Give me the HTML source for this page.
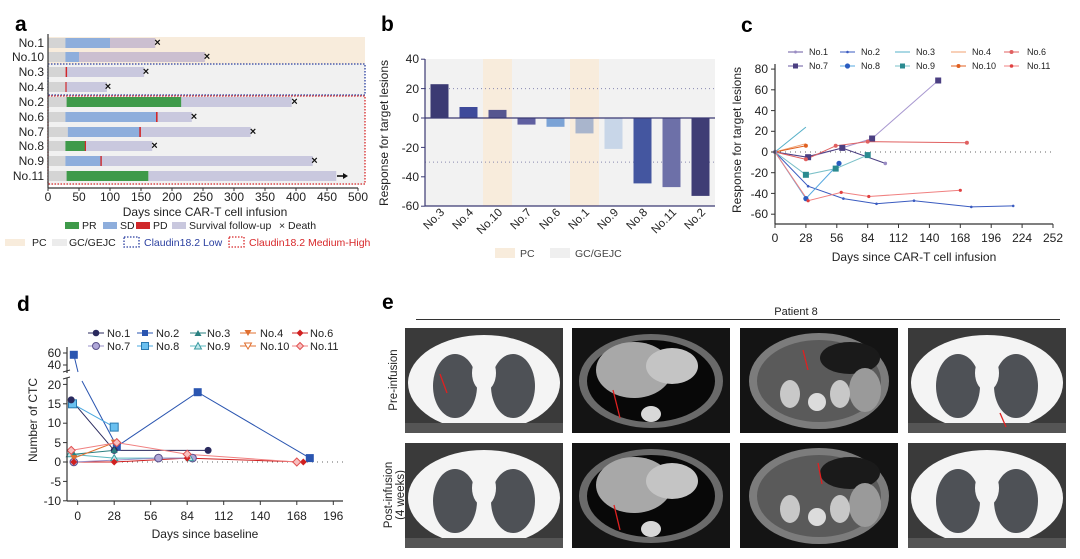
<!DOCTYPE html>
<html><head><meta charset="utf-8"><style>
html,body{margin:0;padding:0;background:#fff;width:1080px;height:559px;overflow:hidden}
svg{display:block;font-family:"Liberation Sans",sans-serif}
</style></head><body>
<svg width="1080" height="559" viewBox="0 0 1080 559" xmlns="http://www.w3.org/2000/svg">
<!-- ========== Panel a ========== -->
<text x="15" y="31" font-size="21" font-weight="bold">a</text>
<rect x="48" y="37" width="317" height="148" fill="#f1f1f1"/>
<rect x="48" y="37" width="317" height="27" fill="#f8ecdc"/>
<rect x="48" y="64" width="317" height="31" fill="none" stroke="#2a3fa0" stroke-width="1.3" stroke-dasharray="1.5 1.5"/>
<rect x="48" y="96" width="317" height="88" fill="none" stroke="#d8282a" stroke-width="1.3" stroke-dasharray="1.5 1.5"/>
<g font-size="12" text-anchor="end" fill="#222">
<text x="44" y="47">No.1</text><text x="44" y="61">No.10</text><text x="44" y="76">No.3</text><text x="44" y="91">No.4</text>
<text x="44" y="106">No.2</text><text x="44" y="121">No.6</text><text x="44" y="136">No.7</text><text x="44" y="150">No.8</text>
<text x="44" y="165">No.9</text><text x="44" y="180">No.11</text>
</g>
<g>
<!-- No.1 -->
<rect x="48" y="38" width="17.4" height="10" fill="#d4d4d4"/><rect x="65.4" y="38" width="44.6" height="10" fill="#8eaedc"/><rect x="110" y="38" width="45.3" height="10" fill="#cbbfd0"/>
<!-- No.10 -->
<rect x="48" y="52" width="17.4" height="10" fill="#d4d4d4"/><rect x="65.4" y="52" width="13.6" height="10" fill="#8eaedc"/><rect x="79" y="52" width="125.9" height="10" fill="#cbbfd0"/>
<!-- No.3 -->
<rect x="48" y="67" width="17.4" height="10" fill="#d4d4d4"/><rect x="65.4" y="67" width="78.7" height="10" fill="#c9c8de"/><rect x="65.6" y="67" width="1.5" height="10" fill="#d0282a"/>
<!-- No.4 -->
<rect x="48" y="82" width="17.4" height="10" fill="#d4d4d4"/><rect x="65.4" y="82" width="41.5" height="10" fill="#c9c8de"/><rect x="65.4" y="82" width="1.2" height="10" fill="#d0282a"/>
<!-- No.2 -->
<rect x="48" y="97" width="18.6" height="10" fill="#d4d4d4"/><rect x="66.6" y="97" width="114.7" height="10" fill="#3f9a4a"/><rect x="181.3" y="97" width="110.4" height="10" fill="#c9c8de"/>
<!-- No.6 -->
<rect x="48" y="112" width="17.4" height="10" fill="#d4d4d4"/><rect x="65.4" y="112" width="91.1" height="10" fill="#8eaedc"/><rect x="156.5" y="112" width="35.3" height="10" fill="#c9c8de"/><rect x="156" y="112" width="1.6" height="10" fill="#d0282a"/>
<!-- No.7 -->
<rect x="48" y="127" width="19.8" height="10" fill="#d4d4d4"/><rect x="67.8" y="127" width="72" height="10" fill="#8eaedc"/><rect x="139.8" y="127" width="110.9" height="10" fill="#c9c8de"/><rect x="139.3" y="127" width="1.6" height="10" fill="#d0282a"/>
<!-- No.8 -->
<rect x="48" y="141" width="17.4" height="10" fill="#d4d4d4"/><rect x="65.4" y="141" width="19.8" height="10" fill="#3f9a4a"/><rect x="85.2" y="141" width="67" height="10" fill="#c9c8de"/><rect x="84.8" y="141" width="1.2" height="10" fill="#d0282a"/>
<!-- No.9 -->
<rect x="48" y="156" width="17.4" height="10" fill="#d4d4d4"/><rect x="65.4" y="156" width="35.3" height="10" fill="#8eaedc"/><rect x="100.7" y="156" width="212" height="10" fill="#c9c8de"/><rect x="100.4" y="156" width="1.4" height="10" fill="#d0282a"/>
<!-- No.11 -->
<rect x="48" y="171" width="18.6" height="10" fill="#d4d4d4"/><rect x="66.6" y="171" width="81.8" height="10" fill="#3f9a4a"/><rect x="148.4" y="171" width="187.9" height="10" fill="#c9c8de"/>
</g>
<g font-size="11" font-weight="bold" text-anchor="middle" fill="#111">
<text x="157.5" y="46">×</text><text x="207" y="60">×</text><text x="146" y="75">×</text><text x="108" y="90">×</text>
<text x="294.5" y="105">×</text><text x="194" y="120">×</text><text x="253" y="135">×</text><text x="154.5" y="149">×</text><text x="314.5" y="164">×</text>
</g>
<line x1="337" y1="176" x2="344" y2="176" stroke="#111" stroke-width="1.6"/><path d="M343,173 L348,176 L343,179Z" fill="#111"/>
<line x1="48" y1="34" x2="48" y2="188" stroke="#333" stroke-width="1.2"/>
<line x1="48" y1="188" x2="358" y2="188" stroke="#333" stroke-width="1.2"/>
<g stroke="#333" stroke-width="1"><line x1="48" y1="188" x2="48" y2="191"/><line x1="79" y1="188" x2="79" y2="191"/><line x1="110" y1="188" x2="110" y2="191"/><line x1="141" y1="188" x2="141" y2="191"/><line x1="172" y1="188" x2="172" y2="191"/><line x1="203" y1="188" x2="203" y2="191"/><line x1="234" y1="188" x2="234" y2="191"/><line x1="265" y1="188" x2="265" y2="191"/><line x1="296" y1="188" x2="296" y2="191"/><line x1="327" y1="188" x2="327" y2="191"/><line x1="358" y1="188" x2="358" y2="191"/></g>
<g font-size="12" text-anchor="middle" fill="#222">
<text x="48" y="201">0</text><text x="79" y="201">50</text><text x="110" y="201">100</text><text x="141" y="201">150</text><text x="172" y="201">200</text><text x="203" y="201">250</text><text x="234" y="201">300</text><text x="265" y="201">350</text><text x="296" y="201">400</text><text x="327" y="201">450</text><text x="358" y="201">500</text>
<text x="205" y="216">Days since CAR-T cell infusion</text>
</g>
<g font-size="10.5" fill="#222">
<rect x="65" y="222" width="14" height="7" fill="#3f9a4a"/><text x="82" y="229">PR</text>
<rect x="103" y="222" width="14" height="7" fill="#8eaedc"/><text x="120" y="229">SD</text>
<rect x="136" y="222" width="14" height="7" fill="#d0282a"/><text x="153" y="229">PD</text>
<rect x="172" y="222" width="14" height="7" fill="#c9c8de"/><text x="189" y="229">Survival follow-up</text>
<text x="279" y="229">× Death</text>
<rect x="5" y="239" width="20" height="7" fill="#f8ecdc"/><text x="32" y="246">PC</text>
<rect x="52" y="239" width="15" height="7" fill="#ececec"/><text x="69" y="246">GC/GEJC</text>
<rect x="124" y="237" width="15" height="10" fill="none" stroke="#2a3fa0" stroke-width="1.3" stroke-dasharray="1.5 1.5"/><text x="144" y="246" fill="#2a3fa0">Claudin18.2 Low</text>
<rect x="229" y="237" width="15" height="10" fill="none" stroke="#d8282a" stroke-width="1.3" stroke-dasharray="1.5 1.5"/><text x="249" y="246" fill="#d8282a">Claudin18.2 Medium-High</text>
</g>

<!-- ========== Panel b ========== -->
<text x="381" y="31" font-size="21" font-weight="bold">b</text>
<rect x="425" y="59" width="290" height="147" fill="#f2f2f2"/>
<rect x="483" y="59" width="29" height="147" fill="#f8ecdc"/>
<rect x="570" y="59" width="29" height="147" fill="#f8ecdc"/>
<line x1="425" y1="88.6" x2="715" y2="88.6" stroke="#8888b0" stroke-dasharray="1 3"/>
<line x1="425" y1="162.1" x2="715" y2="162.1" stroke="#8888b0" stroke-dasharray="1 3"/>
<rect x="430.5" y="84.2" width="18" height="33.8" fill="#3b3a73"/>
<rect x="459.5" y="107" width="18" height="11" fill="#3e4a9a"/>
<rect x="488.5" y="109.9" width="18" height="8.1" fill="#56568f"/>
<rect x="517.5" y="118" width="18" height="6.6" fill="#5f5fa0"/>
<rect x="546.5" y="118" width="18" height="8.8" fill="#7ba3d6"/>
<rect x="575.5" y="118" width="18" height="15.4" fill="#a9b5cc"/>
<rect x="604.5" y="118" width="18" height="30.9" fill="#c8d6e8"/>
<rect x="633.5" y="118" width="18" height="65.4" fill="#4456a0"/>
<rect x="662.5" y="118" width="18" height="69.1" fill="#6d70a8"/>
<rect x="691.5" y="118" width="18" height="77.9" fill="#3f3d75"/>
<line x1="425" y1="118" x2="715" y2="118" stroke="#3b3a73" stroke-width="1.2"/>
<line x1="425" y1="59" x2="425" y2="206" stroke="#3b3a73" stroke-width="1.2"/>
<line x1="425" y1="206" x2="715" y2="206" stroke="#3b3a73" stroke-width="1.2"/>
<g stroke="#3b3a73"><line x1="421" y1="59.2" x2="425" y2="59.2"/><line x1="421" y1="88.6" x2="425" y2="88.6"/><line x1="421" y1="118" x2="425" y2="118"/><line x1="421" y1="147.4" x2="425" y2="147.4"/><line x1="421" y1="176.8" x2="425" y2="176.8"/><line x1="421" y1="206.2" x2="425" y2="206.2"/></g>
<g font-size="12" text-anchor="end" fill="#222">
<text x="419" y="63">40</text><text x="419" y="93">20</text><text x="419" y="122">0</text><text x="419" y="152">-20</text><text x="419" y="181">-40</text><text x="419" y="210">-60</text>
</g>
<text transform="translate(388,133) rotate(-90)" font-size="12" text-anchor="middle" fill="#222">Response for target lesions</text>
<g font-size="11.5" text-anchor="end" fill="#222">
<text transform="translate(445,213) rotate(-45)">No.3</text>
<text transform="translate(474,213) rotate(-45)">No.4</text>
<text transform="translate(503,213) rotate(-45)">No.10</text>
<text transform="translate(532,213) rotate(-45)">No.7</text>
<text transform="translate(561,213) rotate(-45)">No.6</text>
<text transform="translate(590,213) rotate(-45)">No.1</text>
<text transform="translate(619,213) rotate(-45)">No.9</text>
<text transform="translate(648,213) rotate(-45)">No.8</text>
<text transform="translate(677,213) rotate(-45)">No.11</text>
<text transform="translate(706,213) rotate(-45)">No.2</text>
</g>
<rect x="495" y="248" width="20" height="10" fill="#f8ecdc"/><text x="520" y="257" font-size="10.5" fill="#444">PC</text>
<rect x="550" y="248" width="20" height="10" fill="#efefef"/><text x="575" y="257" font-size="10.5" fill="#444">GC/GEJC</text>

<!-- ========== Panel c ========== -->
<text x="741" y="32" font-size="21" font-weight="bold">c</text>
<g font-size="9" fill="#222">
<line x1="788" y1="52" x2="803" y2="52" stroke="#6a5aa0"/><circle cx="795.5" cy="52" r="1.5" fill="#9a8cc4"/><text x="809" y="55">No.1</text>
<line x1="840" y1="52" x2="855" y2="52" stroke="#3a5bc0"/><circle cx="847.5" cy="52" r="1.3" fill="#3a5bc0"/><text x="861" y="55">No.2</text>
<line x1="895" y1="52" x2="910" y2="52" stroke="#56b0c8"/><text x="916" y="55">No.3</text>
<line x1="951" y1="52" x2="966" y2="52" stroke="#f0a070"/><text x="972" y="55">No.4</text>
<line x1="1004" y1="52" x2="1019" y2="52" stroke="#e06060"/><circle cx="1011.5" cy="52" r="2" fill="#e06060"/><text x="1027" y="55">No.6</text>
<line x1="788" y1="66" x2="803" y2="66" stroke="#6a5aa0"/><rect x="793" y="63.5" width="5" height="5" fill="#4b3f82"/><text x="809" y="69">No.7</text>
<line x1="840" y1="66" x2="855" y2="66" stroke="#56a8e0"/><circle cx="847.5" cy="66" r="2.6" fill="#2a5cc0"/><text x="861" y="69">No.8</text>
<line x1="895" y1="66" x2="910" y2="66" stroke="#7ac0c8"/><rect x="900" y="63.5" width="5" height="5" fill="#2a8a90"/><text x="916" y="69">No.9</text>
<line x1="951" y1="66" x2="966" y2="66" stroke="#e06020"/><circle cx="958.5" cy="66" r="2" fill="#e06020"/><text x="972" y="69">No.10</text>
<line x1="1004" y1="66" x2="1019" y2="66" stroke="#f08080"/><circle cx="1011.5" cy="66" r="1.8" fill="#e04040"/><text x="1027" y="69">No.11</text>
</g>
<line x1="775" y1="152" x2="1053" y2="152" stroke="#666" stroke-dasharray="1 4"/>
<g fill="none" stroke-width="1">
<polyline points="775,152 808.1,157.2 842.3,147.9 872.1,138.5 938.2,80.5" stroke="#a898d0"/>
<polyline points="775,152 805.9,157 842.3,148 885.3,163.4" stroke="#4b3f82"/>
<polyline points="775,152 808.1,186.2 843.4,198.6 876.5,203.8 914,200.7 971.3,206.9 1013.2,205.9" stroke="#3a5bc0"/>
<polyline points="775,152 805.9,127.1" stroke="#56b0c8"/>
<polyline points="775,152 805.9,143.7" stroke="#f0a070"/>
<polyline points="775,152 805.9,145.8" stroke="#e06020"/>
<polyline points="775,152 805.9,159.3 835.7,145.8 867.7,141.6 966.9,142.7" stroke="#e06060"/>
<polyline points="775,152 805.9,198.6 839,163.4" stroke="#56a8e0"/>
<polyline points="775,152 805.9,174.8 835.7,168.6 867.7,155.1" stroke="#7ac0c8"/>
<polyline points="775,152 808.1,200.7 841.2,192.4 868.8,196.5 960.3,190.3" stroke="#f08080"/>
</g>
<g>
<rect x="805.1" y="154.2" width="6" height="6" fill="#4b3f82"/><rect x="839.3" y="144.9" width="6" height="6" fill="#4b3f82"/><rect x="869.1" y="135.5" width="6" height="6" fill="#4b3f82"/><rect x="935.2" y="77.5" width="6" height="6" fill="#4b3f82"/>
<circle cx="885.3" cy="163.4" r="1.8" fill="#9a8cc4"/>
<circle cx="808.1" cy="186.2" r="1.3" fill="#3a5bc0"/><circle cx="843.4" cy="198.6" r="1.3" fill="#3a5bc0"/><circle cx="876.5" cy="203.8" r="1.3" fill="#3a5bc0"/><circle cx="914" cy="200.7" r="1.3" fill="#3a5bc0"/><circle cx="971.3" cy="206.9" r="1.3" fill="#3a5bc0"/><circle cx="1013.2" cy="205.9" r="1.3" fill="#3a5bc0"/>
<circle cx="805.9" cy="159.3" r="2" fill="#e06060"/><circle cx="835.7" cy="145.8" r="2" fill="#e06060"/><circle cx="867.7" cy="141.6" r="2" fill="#e06060"/><circle cx="966.9" cy="142.7" r="2" fill="#e06060"/>
<circle cx="805.9" cy="145.8" r="2" fill="#e06020"/>
<circle cx="805.9" cy="198.6" r="2.6" fill="#2a5cc0"/><circle cx="839" cy="163.4" r="2.6" fill="#2a5cc0"/>
<rect x="802.9" y="171.8" width="6" height="6" fill="#2a8a90"/><rect x="832.7" y="165.6" width="6" height="6" fill="#2a8a90"/><rect x="864.7" y="152.1" width="6" height="6" fill="#2a8a90"/>
<circle cx="808.1" cy="200.7" r="1.6" fill="#e04040"/><circle cx="841.2" cy="192.4" r="1.6" fill="#e04040"/><circle cx="868.8" cy="196.5" r="1.6" fill="#e04040"/><circle cx="960.3" cy="190.3" r="1.6" fill="#e04040"/>
<circle cx="775" cy="152" r="2.2" fill="#9a8cc4"/>
</g>
<line x1="775" y1="64" x2="775" y2="224" stroke="#333" stroke-width="1.2"/>
<line x1="775" y1="224" x2="1053" y2="224" stroke="#333" stroke-width="1.2"/>
<g stroke="#333"><line x1="771" y1="69.1" x2="775" y2="69.1"/><line x1="771" y1="89.8" x2="775" y2="89.8"/><line x1="771" y1="110.6" x2="775" y2="110.6"/><line x1="771" y1="131.3" x2="775" y2="131.3"/><line x1="771" y1="152" x2="775" y2="152"/><line x1="771" y1="172.7" x2="775" y2="172.7"/><line x1="771" y1="193.4" x2="775" y2="193.4"/><line x1="771" y1="214.2" x2="775" y2="214.2"/>
<line x1="775" y1="224" x2="775" y2="228"/><line x1="805.9" y1="224" x2="805.9" y2="228"/><line x1="836.8" y1="224" x2="836.8" y2="228"/><line x1="867.7" y1="224" x2="867.7" y2="228"/><line x1="898.5" y1="224" x2="898.5" y2="228"/><line x1="929.4" y1="224" x2="929.4" y2="228"/><line x1="960.3" y1="224" x2="960.3" y2="228"/><line x1="991.2" y1="224" x2="991.2" y2="228"/><line x1="1022.1" y1="224" x2="1022.1" y2="228"/><line x1="1053" y1="224" x2="1053" y2="228"/></g>
<g font-size="12" text-anchor="end" fill="#222">
<text x="768" y="73">80</text><text x="768" y="94">60</text><text x="768" y="115">40</text><text x="768" y="135">20</text><text x="768" y="156">0</text><text x="768" y="177">-20</text><text x="768" y="198">-40</text><text x="768" y="218">-60</text>
</g>
<g font-size="12" text-anchor="middle" fill="#222">
<text x="775" y="242">0</text><text x="805.9" y="242">28</text><text x="836.8" y="242">56</text><text x="867.7" y="242">84</text><text x="898.5" y="242">112</text><text x="929.4" y="242">140</text><text x="960.3" y="242">168</text><text x="991.2" y="242">196</text><text x="1022.1" y="242">224</text><text x="1053" y="242">252</text>
<text x="914" y="261">Days since CAR-T cell infusion</text>
</g>
<text transform="translate(741,140) rotate(-90)" font-size="12" text-anchor="middle" fill="#222">Response for target lesions</text>

<!-- ========== Panel d ========== -->
<text x="17" y="311" font-size="21" font-weight="bold">d</text>
<g font-size="11" fill="#222">
<line x1="88" y1="333" x2="104" y2="333" stroke="#2a2a5e"/><circle cx="96" cy="333" r="3.3" fill="#2a2a5e"/><text x="107" y="337">No.1</text>
<line x1="137" y1="333" x2="153" y2="333" stroke="#2a55b0"/><rect x="142" y="330" width="6" height="6" fill="#2a55b0"/><text x="156" y="337">No.2</text>
<line x1="190" y1="333" x2="206" y2="333" stroke="#2a8080"/><path d="M198,330 L201.5,336 L194.5,336Z" fill="#2a8080"/><text x="207" y="337">No.3</text>
<line x1="240" y1="333" x2="256" y2="333" stroke="#e07030"/><path d="M244.5,330 L251.5,330 L248,336Z" fill="#e07030"/><text x="260" y="337">No.4</text>
<line x1="292" y1="333" x2="308" y2="333" stroke="#d02020"/><path d="M300,329.5 L303.5,333 L300,336.5 L296.5,333Z" fill="#d02020"/><text x="310" y="337">No.6</text>
<line x1="88" y1="346" x2="104" y2="346" stroke="#9a90c8"/><circle cx="96" cy="346" r="3.5" fill="#b0a8d8" stroke="#5a508a"/><text x="107" y="350">No.7</text>
<line x1="137" y1="346" x2="153" y2="346" stroke="#4aa8e0"/><rect x="141.5" y="342.5" width="7" height="7" fill="#6ac0f0" stroke="#2a7ab0"/><text x="156" y="350">No.8</text>
<line x1="190" y1="346" x2="206" y2="346" stroke="#5ab8c0"/><path d="M198,342.5 L201.5,349 L194.5,349Z" fill="#c0e8ec" stroke="#3a9aa0"/><text x="207" y="350">No.9</text>
<line x1="240" y1="346" x2="256" y2="346" stroke="#e07030"/><path d="M244.5,343 L251.5,343 L248,349Z" fill="#fff" stroke="#e07030"/><text x="260" y="350">No.10</text>
<line x1="292" y1="346" x2="308" y2="346" stroke="#f08080"/><path d="M300,342.5 L303.5,346 L300,349.5 L296.5,346Z" fill="#f8c0c0" stroke="#e05050"/><text x="310" y="350">No.11</text>
</g>
<line x1="67" y1="462" x2="343" y2="462" stroke="#666" stroke-dasharray="1 4"/>
<g fill="none" stroke-width="1">
<polyline points="73.8,354.8 78,372" stroke="#2a55b0"/>
<polyline points="82,381 116.8,446.5 197.7,392.2 309.8,458.1" stroke="#2a55b0"/>
<polyline points="71.2,399.9 114.2,450.4 208.1,450.4" stroke="#2a2a5e"/>
<polyline points="72.5,403.8 114.2,427.1" stroke="#4aa8e0"/>
<polyline points="73.8,454.2 114.2,450.4" stroke="#2a8080"/>
<polyline points="69.9,454.2 114.2,458.1 189.8,458.1" stroke="#5ab8c0"/>
<polyline points="73.8,458.1 114.2,442.6" stroke="#e07030"/>
<polyline points="73.8,462 114.2,462 187.2,458.1 303.3,462" stroke="#d02020"/>
<polyline points="73.8,462 158.5,458.1 192.5,458.1" stroke="#9a90c8"/>
<polyline points="71.2,450.4 116.8,442.6 187.2,454.2 296.8,462" stroke="#f08080"/>
</g>
<g>
<rect x="69.8" y="350.8" width="8" height="8" fill="#2a55b0"/><rect x="112.8" y="442.5" width="8" height="8" fill="#2a55b0"/><rect x="193.7" y="388.2" width="8" height="8" fill="#2a55b0"/><rect x="305.8" y="454.1" width="8" height="8" fill="#2a55b0"/>
<rect x="68.5" y="399.8" width="8" height="8" fill="#6ac0f0" stroke="#2a7ab0"/><rect x="110.2" y="423.1" width="8" height="8" fill="#6ac0f0" stroke="#2a7ab0"/>
<circle cx="71.2" cy="399.9" r="3.5" fill="#2a2a5e"/><circle cx="114.2" cy="450.4" r="3.5" fill="#2a2a5e"/><circle cx="208.1" cy="450.4" r="3.5" fill="#2a2a5e"/>
<circle cx="158.5" cy="458.1" r="3.8" fill="#b0a8d8" stroke="#5a508a"/><circle cx="192.5" cy="458.1" r="3.8" fill="#b0a8d8" stroke="#5a508a"/><circle cx="73.8" cy="462" r="3.8" fill="#b0a8d8" stroke="#5a508a"/>
<path d="M73.8,450.7 L77.3,456.7 L70.3,456.7Z" fill="#2a8080"/><path d="M114.2,446.9 L117.7,452.9 L110.7,452.9Z" fill="#2a8080"/>
<path d="M69.9,450.7 L73.4,456.7 L66.4,456.7Z" fill="#c0e8ec" stroke="#3a9aa0"/><path d="M114.2,454.6 L117.7,460.6 L110.7,460.6Z" fill="#c0e8ec" stroke="#3a9aa0"/><path d="M189.8,454.6 L193.3,460.6 L186.3,460.6Z" fill="#c0e8ec" stroke="#3a9aa0"/>
<path d="M70.3,455.1 L77.3,455.1 L73.8,461.1Z" fill="#e07030"/><path d="M110.7,439.6 L117.7,439.6 L114.2,445.6Z" fill="#e07030"/>
<path d="M73.8,458.5 L77.3,462 L73.8,465.5 L70.3,462Z" fill="#d02020"/><path d="M114.2,458.5 L117.7,462 L114.2,465.5 L110.7,462Z" fill="#d02020"/><path d="M187.2,454.6 L190.7,458.1 L187.2,461.6 L183.7,458.1Z" fill="#d02020"/><path d="M303.3,458.5 L306.8,462 L303.3,465.5 L299.8,462Z" fill="#d02020"/>
<path d="M71.2,446.4 L75.2,450.4 L71.2,454.4 L67.2,450.4Z" fill="#f8c0c0" stroke="#e05050"/><path d="M116.8,438.6 L120.8,442.6 L116.8,446.6 L112.8,442.6Z" fill="#f8c0c0" stroke="#e05050"/><path d="M187.2,450.2 L191.2,454.2 L187.2,458.2 L183.2,454.2Z" fill="#f8c0c0" stroke="#e05050"/><path d="M296.8,458 L300.8,462 L296.8,466 L292.8,462Z" fill="#f8c0c0" stroke="#e05050"/>
</g>
<line x1="67" y1="347" x2="67" y2="373" stroke="#333" stroke-width="1.2"/>
<line x1="67" y1="378" x2="67" y2="501" stroke="#333" stroke-width="1.2"/>
<line x1="63" y1="372" x2="70" y2="370" stroke="#333"/><line x1="63" y1="379" x2="70" y2="377" stroke="#333"/>
<line x1="67" y1="501" x2="343" y2="501" stroke="#333" stroke-width="1.2"/>
<g stroke="#333"><line x1="63" y1="353" x2="67" y2="353"/><line x1="63" y1="365" x2="67" y2="365"/><line x1="63" y1="384.4" x2="67" y2="384.4"/><line x1="63" y1="403.8" x2="67" y2="403.8"/><line x1="63" y1="423.2" x2="67" y2="423.2"/><line x1="63" y1="442.6" x2="67" y2="442.6"/><line x1="63" y1="462" x2="67" y2="462"/><line x1="63" y1="481.4" x2="67" y2="481.4"/><line x1="63" y1="500.8" x2="67" y2="500.8"/>
<line x1="77.7" y1="501" x2="77.7" y2="505"/><line x1="114.2" y1="501" x2="114.2" y2="505"/><line x1="150.7" y1="501" x2="150.7" y2="505"/><line x1="187.2" y1="501" x2="187.2" y2="505"/><line x1="223.7" y1="501" x2="223.7" y2="505"/><line x1="260.3" y1="501" x2="260.3" y2="505"/><line x1="296.8" y1="501" x2="296.8" y2="505"/><line x1="333.3" y1="501" x2="333.3" y2="505"/></g>
<g font-size="12" text-anchor="end" fill="#222">
<text x="61" y="357">60</text><text x="61" y="369">40</text><text x="61" y="389">20</text><text x="61" y="408">15</text><text x="61" y="427">10</text><text x="61" y="447">5</text><text x="61" y="466">0</text><text x="61" y="486">-5</text><text x="61" y="505">-10</text>
</g>
<g font-size="12" text-anchor="middle" fill="#222">
<text x="77.7" y="520">0</text><text x="114.2" y="520">28</text><text x="150.7" y="520">56</text><text x="187.2" y="520">84</text><text x="223.7" y="520">112</text><text x="260.3" y="520">140</text><text x="296.8" y="520">168</text><text x="333.3" y="520">196</text>
<text x="205" y="538">Days since baseline</text>
</g>
<text transform="translate(37,420) rotate(-90)" font-size="12" text-anchor="middle" fill="#222">Number of CTC</text>

<!-- ========== Panel e ========== -->
<text x="382" y="309" font-size="21" font-weight="bold">e</text>
<text x="796" y="315" font-size="11" text-anchor="middle" fill="#222">Patient 8</text>
<line x1="416" y1="319.5" x2="1060" y2="319.5" stroke="#333" stroke-width="1"/>
<text transform="translate(397,380) rotate(-90)" font-size="11.5" text-anchor="middle" fill="#222">Pre-infusion</text>
<text transform="translate(392,495) rotate(-90)" font-size="11.5" text-anchor="middle" fill="#222">Post-infusion</text>
<text transform="translate(404,495) rotate(-90)" font-size="11.5" text-anchor="middle" fill="#222">(4 weeks)</text>
<defs>
<g id="lung">
<rect width="158" height="105" fill="#3a3a3a"/>
<ellipse cx="79" cy="55" rx="76" ry="48" fill="#f4f4f4"/>
<rect x="0" y="95" width="158" height="10" fill="#555"/>
<ellipse cx="50" cy="58" rx="22" ry="32" fill="#4e5156"/>
<ellipse cx="108" cy="58" rx="22" ry="32" fill="#4e5156"/>
<ellipse cx="79" cy="45" rx="12" ry="18" fill="#f4f4f4"/>
</g>
<g id="chest">
<rect width="158" height="105" fill="#141414"/>
<ellipse cx="79" cy="53" rx="72" ry="47" fill="#6a6a6a"/>
<ellipse cx="79" cy="53" rx="64" ry="41" fill="#080808"/>
<ellipse cx="62" cy="42" rx="38" ry="28" fill="#a8a8a8"/>
<ellipse cx="100" cy="38" rx="26" ry="18" fill="#c4c4c4"/>
<ellipse cx="79" cy="86" rx="10" ry="8" fill="#d8d8d8"/>
</g>
<g id="abd">
<rect width="158" height="105" fill="#141414"/>
<ellipse cx="79" cy="53" rx="70" ry="48" fill="#7c7c7c"/>
<ellipse cx="79" cy="53" rx="62" ry="41" fill="#5a5a5a"/>
<ellipse cx="110" cy="30" rx="30" ry="16" fill="#1a1a1a"/>
<ellipse cx="125" cy="62" rx="16" ry="22" fill="#9a9a9a"/>
<ellipse cx="50" cy="66" rx="10" ry="14" fill="#c8c8c8"/>
<ellipse cx="100" cy="66" rx="10" ry="14" fill="#c8c8c8"/>
<ellipse cx="77" cy="74" rx="9" ry="9" fill="#dcdcdc"/>
</g>
</defs>
<use href="#lung" x="405" y="328"/>
<use href="#chest" x="572" y="328"/>
<use href="#abd" x="740" y="328"/>
<use href="#lung" x="908" y="328"/>
<use href="#lung" x="405" y="443"/>
<use href="#chest" x="572" y="443"/>
<use href="#abd" x="740" y="443"/>
<use href="#lung" x="908" y="443"/>
<g stroke="#e02020" stroke-width="1.3">
<line x1="440" y1="374" x2="447" y2="393"/><line x1="613" y1="390" x2="620" y2="418"/><line x1="803" y1="350" x2="808" y2="370"/><line x1="1000" y1="413" x2="1006" y2="427"/>
<line x1="614" y1="505" x2="620" y2="530"/><line x1="818" y1="463" x2="822" y2="484"/>
</g>
</svg>
</body></html>
